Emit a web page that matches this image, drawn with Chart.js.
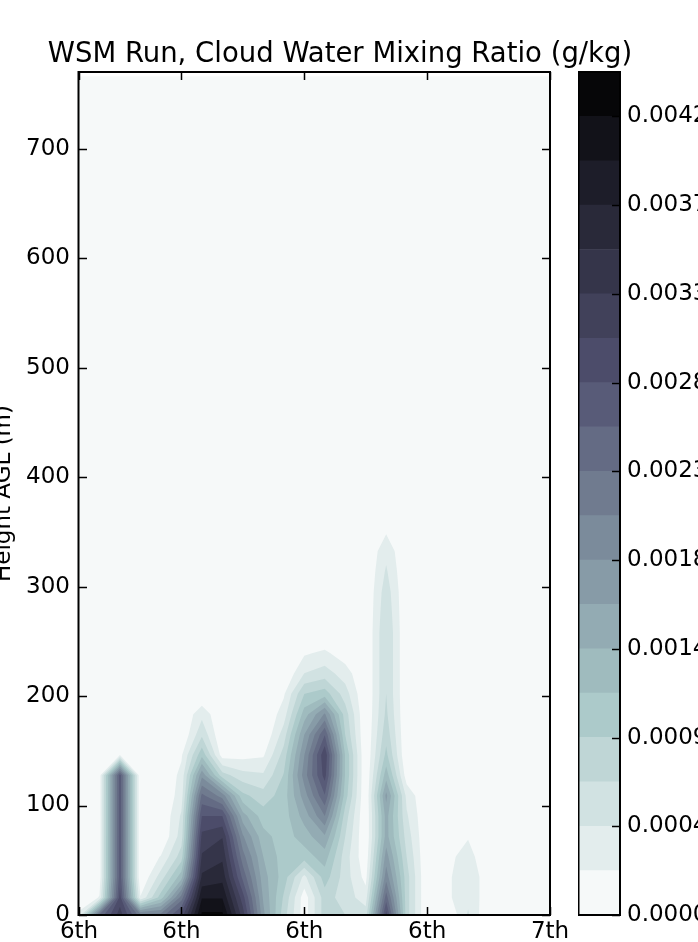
<!DOCTYPE html>
<html>
<head>
<meta charset="utf-8">
<script src="https://cdn.jsdelivr.net/npm/chart.js@4.4.1/dist/chart.umd.min.js"></script>
<style>
html,body{margin:0;padding:0;background:#fff;overflow:hidden;width:698px;height:942px;}
#main{position:absolute;left:0;top:0;}
#cbar{position:absolute;left:578px;top:0;}
</style>
</head>
<body>
<canvas id="main" width="698" height="942"></canvas>
<canvas id="cbar" width="160" height="942"></canvas>
<script>
// ---------------- DATA ----------------
const titleText = 'WSM Run, Cloud Water Mixing Ratio (g/kg)';
const yTitle = 'Height AGL (m)';
// time axis (hours of the model run) and tick labels
const hours = [1,2,3,4,5,6,7,8,9,10,11,12,13,14,15,16,17,18,19,20,21,22,23,24];
const xTickValues = [1, 6, 12, 18, 24];
const xTickLabels = ['6th', '6th', '6th', '6th', '7th'];
// model level heights AGL (m)
const heights = [0, 16, 34.6, 53.2, 71.8, 90.4, 109, 127.6, 146.2, 164.8, 183.4, 202, 220.6,
  239.2, 257.8, 276.4, 295, 313.6, 332.2, 350.8, 369.4, 388, 406.6, 425.2, 443.8, 462.4,
  481, 499.6, 518.2, 536.8, 555.4, 574, 592.6, 611.2, 629.8, 648.4, 667, 685.6, 704.2,
  722.8, 741.4, 766];
const yTickValues = [0, 100, 200, 300, 400, 500, 600, 700];
const yMax = 770;
// contour levels and colorbar labels (units of 1e-4 g/kg)
const contourLevels = [0, 2.333, 4.667, 7, 9.333, 11.667, 14, 16.333, 18.667, 21, 23.333,
  25.667, 28, 30.333, 32.667, 35, 37.333, 39.667, 42, 44.333];
const cbTickValues = [0, 4.667, 9.333, 14, 18.667, 23.333, 28, 32.667, 37.333, 42];
const cbTickLabels = ['0.0000', '0.0004', '0.0009', '0.0014', '0.0018', '0.0023', '0.0028', '0.0033', '0.0037', '0.0042'];
// cloud water mixing ratio (1e-4 g/kg) per hour, listed from the lowest level upward;
// levels above the last listed value are cloud free (0)
const h01 = [3];
const h02 = [24, 2.5, 1, 1, 1, 1, 1, 1];
const h03 = [31.5, 29, 27, 27, 27, 27, 27, 27, 2.2];
const h04 = [22, 2.5];
const h05 = [22, 10.5, 5.8, 2.5];
const h06 = [29, 22, 13, 8.2, 5.8, 5, 3.5, 3, 2];
const h07 = [42.5, 39.5, 35.5, 33, 31, 28, 24, 18, 11, 6.5, 4];
const h08 = [42.5, 39.5, 36.5, 34.5, 32.5, 28, 20, 8, 1.2];
const h09 = [31.5, 29, 25, 22, 19, 15, 10, 5.5, 1.5];
const h10 = [17, 16, 15, 14, 12.5, 10.5, 8, 5, 2];
const h11 = [8, 9, 10.5, 10.5, 10.5, 10.5, 10.5, 9.5, 8, 5.8, 3.5, 2];
const h12 = [1, 1, 4, 10.5, 12.8, 15, 17.5, 19.8, 18.6, 16.3, 12.8, 9.3, 4.7, 2];
const h13 = [8.2, 8.2, 10.5, 12.8, 16, 21, 25.5, 29, 30, 25.5, 19, 10.5, 5.8, 2.8];
const h14 = [7, 5.8, 5.8, 5.8, 7, 8.2, 10.5, 11.5, 11.5, 9.3, 8.2, 5.8, 3.5, 1];
const h15 = [5.8, 3.5, 1.5, 0.5];
const h16 = [29, 24.5, 20, 17.5, 15, 15, 17, 13, 10, 8.5, 7.5, 7, 7, 7, 7, 6.5, 6, 5, 4, 2];
const h17 = [8, 8, 8, 7, 6, 5, 4, 1];
const h18 = [];
const h19 = [0, 1.9, 1.9, 1.9];
const h20 = [5, 4, 4, 3, 2.2];
const h21 = [0, 1, 1, 1];
const h22 = [];
const h23 = [];
const h24 = [];
const qcColumns = [h01,h02,h03,h04,h05,h06,h07,h08,h09,h10,h11,h12,h13,h14,h15,h16,h17,h18,h19,h20,h21,h22,h23,h24];

// ---------------- STYLE ----------------
const FONT = "'DejaVu Sans', 'Liberation Sans', sans-serif";
function boneR(v) {
  const s = 1 - v;
  const seg = (pts) => {
    for (let i = 1; i < pts.length; i++) {
      if (s <= pts[i][0]) {
        const [x0, y0] = pts[i - 1], [x1, y1] = pts[i];
        return y0 + (s - x0) / (x1 - x0) * (y1 - y0);
      }
    }
    return pts[pts.length - 1][1];
  };
  const r = seg([[0,0],[0.746032,0.652778],[1,1]]);
  const g = seg([[0,0],[0.365079,0.319444],[0.746032,0.777778],[1,1]]);
  const b = seg([[0,0],[0.365079,0.444444],[1,1]]);
  return 'rgb(' + Math.round(r*255) + ',' + Math.round(g*255) + ',' + Math.round(b*255) + ')';
}
const nBands = contourLevels.length - 1;
const bandColors = [];
for (let i = 0; i < nBands; i++) bandColors.push(boneR((i + 0.5) / nBands));

function val(i, j) {
  const col = qcColumns[i];
  return (j < col.length) ? col[j] : 0;
}

// marching-squares polygon(s) of the part of one cell where value >= t
function cellPolys(px, py, vs, t) {
  const inside = vs.map(v => v >= t);
  const n = inside.filter(Boolean).length;
  if (n === 0) return [];
  const cross = (a, b) => {
    const f = (t - vs[a]) / (vs[b] - vs[a]);
    return [px[a] + f * (px[b] - px[a]), py[a] + f * (py[b] - py[a])];
  };
  if (n === 2 && inside[0] === inside[2]) {
    const center = (vs[0] + vs[1] + vs[2] + vs[3]) / 4;
    if (center < t) {
      const polys = [];
      for (let c = 0; c < 4; c++) if (inside[c]) {
        const p = (c + 3) % 4, q = (c + 1) % 4;
        polys.push([cross(p, c), [px[c], py[c]], cross(c, q)]);
      }
      return polys;
    }
  }
  const pts = [];
  for (let a = 0; a < 4; a++) {
    const b = (a + 1) % 4;
    if (inside[a]) pts.push([px[a], py[a]]);
    if (inside[a] !== inside[b]) pts.push(cross(a, b));
  }
  return [pts];
}

const contourPlugin = {
  id: 'contourf',
  beforeDatasetsDraw(chart) {
    const ctx = chart.ctx, xs = chart.scales.x, ys = chart.scales.y, ca = chart.chartArea;
    ctx.save();
    ctx.beginPath();
    ctx.rect(ca.left, ca.top, ca.right - ca.left, ca.bottom - ca.top);
    ctx.clip();
    const X = hours.map(h => xs.getPixelForValue(h));
    const Y = heights.map(z => ys.getPixelForValue(z));
    // lowest band everywhere the data exists
    ctx.fillStyle = bandColors[0];
    ctx.fillRect(X[0], Y[Y.length - 1], X[X.length - 1] - X[0], Y[0] - Y[Y.length - 1]);
    for (let L = 1; L < nBands; L++) {
      const t = contourLevels[L];
      ctx.beginPath();
      let any = false;
      for (let i = 0; i < hours.length - 1; i++) {
        for (let j = 0; j < heights.length - 1; j++) {
          const vs = [val(i, j), val(i + 1, j), val(i + 1, j + 1), val(i, j + 1)];
          if (Math.max(...vs) < t) continue;
          const px = [X[i], X[i + 1], X[i + 1], X[i]];
          const py = [Y[j], Y[j], Y[j + 1], Y[j + 1]];
          for (const poly of cellPolys(px, py, vs, t)) {
            ctx.moveTo(poly[0][0], poly[0][1]);
            for (let k = 1; k < poly.length; k++) ctx.lineTo(poly[k][0], poly[k][1]);
            ctx.closePath();
            any = true;
          }
        }
      }
      if (any) { ctx.fillStyle = bandColors[L]; ctx.fill('nonzero'); }
    }
    ctx.restore();
  },
  afterDraw(chart) {
    const ctx = chart.ctx, xs = chart.scales.x, ys = chart.scales.y, ca = chart.chartArea;
    ctx.save();
    ctx.strokeStyle = '#000';
    ctx.lineWidth = 1.5;
    // inward ticks
    ctx.beginPath();
    yTickValues.forEach(v => {
      const y = Math.round(ys.getPixelForValue(v)) + 0.5;
      ctx.moveTo(ca.left, y); ctx.lineTo(ca.left + 8, y);
      ctx.moveTo(ca.right, y); ctx.lineTo(ca.right - 8, y);
    });
    xTickValues.forEach(v => {
      const x = Math.round(xs.getPixelForValue(v)) + 0.5;
      ctx.moveTo(x, ca.bottom); ctx.lineTo(x, ca.bottom - 8);
      ctx.moveTo(x, ca.top); ctx.lineTo(x, ca.top + 8);
    });
    ctx.stroke();
    // frame
    ctx.lineWidth = 2;
    ctx.strokeRect(ca.left - 0.5, ca.top, ca.right - ca.left + 0.5, ca.bottom - ca.top);
    // title
    ctx.fillStyle = '#000';
    ctx.font = '27.5px ' + FONT;
    ctx.textAlign = 'center';
    ctx.textBaseline = 'alphabetic';
    ctx.fillText(titleText, 340, 62);
    // y axis title (rotated)
    ctx.font = '23px ' + FONT;
    ctx.translate(10, (ca.top + ca.bottom) / 2);
    ctx.rotate(-Math.PI / 2);
    ctx.fillText(yTitle, 0, 0);
    ctx.restore();
  }
};

new Chart(document.getElementById('main'), {
  type: 'scatter',
  data: { datasets: [] },
  options: {
    responsive: false, animation: false, devicePixelRatio: 1,
    layout: { padding: { top: 72, right: 148, bottom: 0, left: 0 } },
    plugins: { legend: { display: false }, tooltip: { enabled: false }, title: { display: false } },
    scales: {
      x: {
        type: 'linear', min: hours[0], max: hours[hours.length - 1],
        grid: { display: false, drawTicks: false }, border: { display: false },
        afterBuildTicks: (s) => { s.ticks = xTickValues.map(v => ({ value: v })); },
        afterFit: (s) => { s.height = 27; },
        ticks: { autoSkip: false, maxRotation: 0, padding: 3, color: '#000',
          font: { family: FONT, size: 23 },
          callback: (v, i) => xTickLabels[i] }
      },
      y: {
        type: 'linear', min: 0, max: yMax,
        grid: { display: false, drawTicks: false }, border: { display: false },
        afterBuildTicks: (s) => { s.ticks = yTickValues.map(v => ({ value: v })); },
        afterFit: (s) => { s.width = 79; },
        ticks: { autoSkip: false, padding: 9, color: '#000',
          font: { family: FONT, size: 23 },
          callback: (v) => String(v) }
      }
    }
  },
  plugins: [contourPlugin]
});

// ---------------- COLORBAR ----------------
const cbDatasets = [];
for (let i = 0; i < nBands; i++) {
  cbDatasets.push({
    data: [contourLevels[i + 1] - contourLevels[i]],
    backgroundColor: bandColors[i], borderWidth: 0,
    barPercentage: 1, categoryPercentage: 1, stack: 'cb'
  });
}
const cbFramePlugin = {
  id: 'cbframe',
  afterDraw(chart) {
    const ctx = chart.ctx, ca = chart.chartArea, ys = chart.scales.y;
    ctx.save();
    ctx.strokeStyle = '#000';
    ctx.lineWidth = 1.5;
    ctx.beginPath();
    cbTickValues.forEach(v => {
      const y = Math.round(ys.getPixelForValue(v)) + 0.5;
      ctx.moveTo(ca.right, y); ctx.lineTo(ca.right - 8, y);
    });
    ctx.stroke();
    ctx.lineWidth = 2;
    ctx.strokeRect(ca.left + 0.5, ca.top, ca.right - ca.left - 0.5, ca.bottom - ca.top);
    ctx.restore();
  }
};
new Chart(document.getElementById('cbar'), {
  type: 'bar',
  data: { labels: [''], datasets: cbDatasets },
  options: {
    responsive: false, animation: false, devicePixelRatio: 1,
    layout: { padding: { top: 72, right: 0, bottom: 27, left: 0 } },
    plugins: { legend: { display: false }, tooltip: { enabled: false } },
    scales: {
      x: { display: false, stacked: true },
      y: {
        position: 'right', stacked: true, min: 0, max: contourLevels[contourLevels.length - 1],
        grid: { display: false, drawTicks: false }, border: { display: false },
        afterBuildTicks: (s) => { s.ticks = cbTickValues.map(v => ({ value: v })); },
        afterFit: (s) => { s.width = 118; },
        ticks: { autoSkip: false, padding: 7, color: '#000',
          font: { family: FONT, size: 23 },
          callback: (v, i) => cbTickLabels[i] }
      }
    }
  },
  plugins: [cbFramePlugin]
});
</script>
</body>
</html>
